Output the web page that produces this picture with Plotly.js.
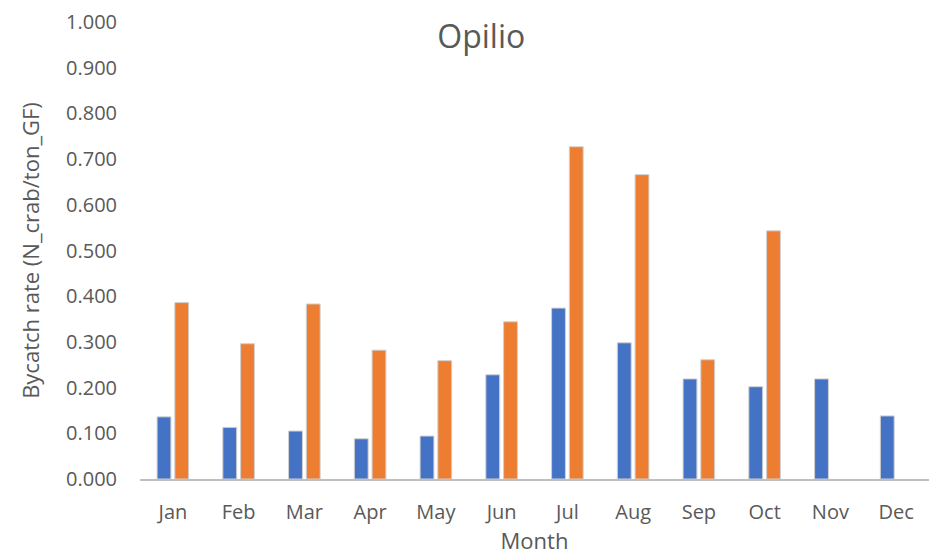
<!DOCTYPE html>
<html>
<head>
<meta charset="utf-8">
<script src="https://cdn.plot.ly/plotly-3.0.1.min.js"></script>
<style>html,body{margin:0;padding:0;background:#fff;}#chart{width:940px;height:560px;}</style>
</head>
<body>
<div id="chart"></div>
<script>
const months = ["Jan","Feb","Mar","Apr","May","Jun","Jul","Aug","Sep","Oct","Nov","Dec"];
const seriesA = [0.136,0.113,0.105,0.088,0.094,0.228,0.374,0.298,0.219,0.202,0.219,0.138];
const seriesB = [0.386,0.296,0.383,0.282,0.259,0.344,0.727,0.666,0.261,0.543,null,null];
const yTicks = [0,0.1,0.2,0.3,0.4,0.5,0.6,0.7,0.8,0.9,1.0];

const fontFam = "'Open Sans', 'Noto Sans', sans-serif";
const data = [
  {type:"bar", x:months, y:seriesA, name:"A",
   marker:{color:"#4472C4", line:{color:"#d0d0d0", width:1}}},
  {type:"bar", x:months, y:seriesB, name:"B",
   marker:{color:"#ED7D31", line:{color:"#d0d0d0", width:1}}}
];
const layout = {
  width:940, height:560,
  margin:{l:140, r:11, t:22, b:81},
  paper_bgcolor:"#fff", plot_bgcolor:"#fff",
  showlegend:false,
  barmode:"group", bargap:0.46, bargroupgap:0.22,
  font:{family:fontFam, color:"#595959", size:20},
  title:{text:"Opilio", x:0.512, xanchor:"center", y:0.935, yanchor:"middle",
         font:{family:fontFam, size:32, color:"#595959"}},
  xaxis:{showgrid:false, showline:true, linecolor:"#bfbfbf", linewidth:2,
         ticks:"", ticklabelstandoff:14, tickfont:{size:20, color:"#595959"},
         automargin:false,
         title:{text:"Month", font:{size:22, color:"#595959"}, standoff:10}},
  yaxis:{range:[0,1.0], tickvals:yTicks, tickformat:".3f", showgrid:false,
         zeroline:false, showline:false, ticks:"", ticklen:0,
         ticklabelstandoff:22, automargin:false,
         tickfont:{size:20, color:"#595959"},
         title:{text:"Bycatch rate (N_crab/ton_GF)", font:{size:22, color:"#595959"}, standoff:20}}
};
Plotly.newPlot("chart", data, layout, {displayModeBar:false, staticPlot:true});
</script>
</body>
</html>
